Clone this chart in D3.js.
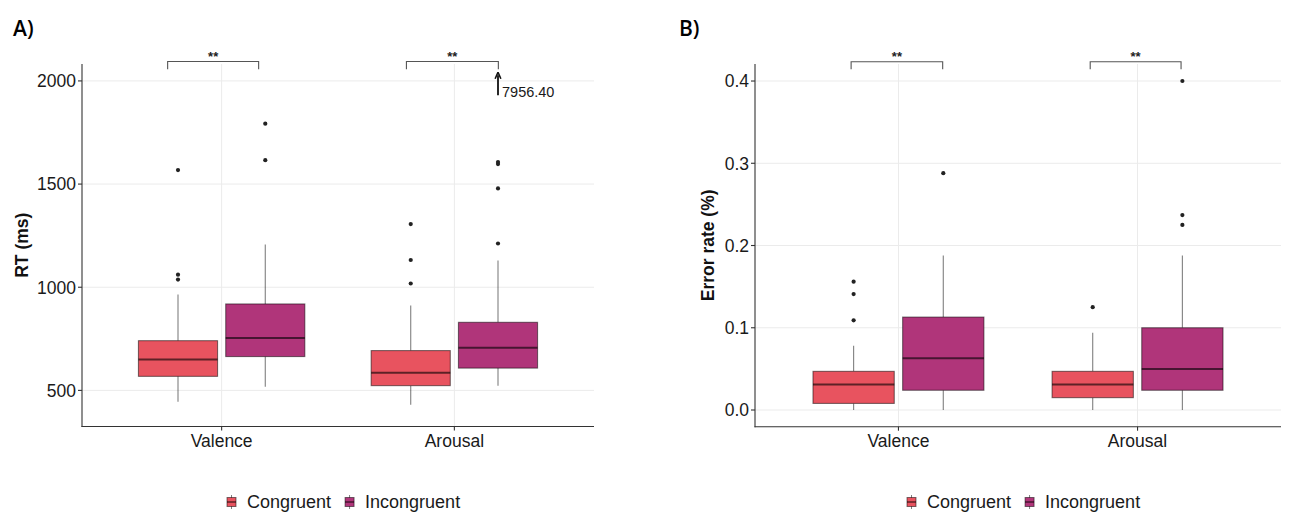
<!DOCTYPE html>
<html>
<head>
<meta charset="utf-8">
<script src="https://cdn.jsdelivr.net/npm/d3@7"></script>
<style>
  body { margin: 0; background: #fff; }
  svg { display: block; font-family: "Liberation Sans", Arial, sans-serif; }
</style>
</head>
<body>
<div id="chart"></div>
<script>
// Categories and groups
const conditions = ["Valence", "Arousal"];
const groups = ["Congruent", "Incongruent"];
const groupColors = ["#E8535F", "#B0357A"];

// Box stats per condition: [lower whisker, Q1, median, Q3, upper whisker]
const rtCongruent = [[445, 568, 650, 741, 965], [431, 523, 586, 693, 911]];
const rtIncongruent = [[518, 664, 754, 919, 1207], [523, 608, 707, 830, 1130]];
const rtCongruentOutliers = [[1037, 1061, 1568], [1018, 1132, 1306]];
const rtIncongruentOutliers = [[1616, 1793], [1212, 1479, 1597, 1607]];
const rtTicks = [500, 1000, 1500, 2000];

const errCongruent = [[0, 0.008, 0.031, 0.047, 0.078], [0, 0.015, 0.031, 0.047, 0.094]];
const errIncongruent = [[0, 0.024, 0.063, 0.113, 0.188], [0, 0.024, 0.050, 0.100, 0.188]];
const errCongruentOutliers = [[0.109, 0.141, 0.156], [0.125]];
const errIncongruentOutliers = [[0.288], [0.225, 0.237, 0.4]];
const errTicks = [0.0, 0.1, 0.2, 0.3, 0.4];

// Significance brackets: [condition, left offset, right offset] in category steps
const sigLabel = "**";
const rtBrackets = [["Valence", -0.232, 0.159], ["Arousal", -0.206, 0.189]];
const errBrackets = [["Valence", -0.198, 0.185], ["Arousal", -0.198, 0.182]];

// Off-scale value shown with an arrow
const rtOffScale = { condition: "Arousal", group: 1, value: 7956.40 };

const W = 1290, H = 512;
const svg = d3.select("#chart").append("svg")
  .attr("width", W).attr("height", H);

function drawPanel(opts) {
  const { left, right, top, bottom, domain, ticks, fmt, title, tag, stats, outliers, brackets, bracketY } = opts;

  const x = d3.scalePoint().domain(conditions).range([left, right]).padding(0.6);
  const y = d3.scaleLinear().domain(domain).range([bottom, top]);
  const step = x.step();
  const dodge = [-0.1875, 0.1875];
  const boxW = 0.34 * step;

  const g = svg.append("g");

  // Grid
  g.selectAll(".hgrid").data(ticks).join("line")
    .attr("x1", left).attr("x2", right)
    .attr("y1", d => y(d)).attr("y2", d => y(d))
    .attr("stroke", "#ebebeb").attr("stroke-width", 1);
  g.selectAll(".vgrid").data(conditions).join("line")
    .attr("x1", d => x(d)).attr("x2", d => x(d))
    .attr("y1", top).attr("y2", bottom)
    .attr("stroke", "#ebebeb").attr("stroke-width", 1);

  // Boxes
  stats.forEach((series, gi) => {
    series.forEach((s, ci) => {
      const cx = x(conditions[ci]) + dodge[gi] * step;
      const bg = g.append("g");
      bg.append("line")
        .attr("x1", cx).attr("x2", cx)
        .attr("y1", y(s[4])).attr("y2", y(s[3]))
        .attr("stroke", "rgba(0,0,0,0.5)").attr("stroke-width", 1.1);
      bg.append("line")
        .attr("x1", cx).attr("x2", cx)
        .attr("y1", y(s[1])).attr("y2", y(s[0]))
        .attr("stroke", "rgba(0,0,0,0.5)").attr("stroke-width", 1.1);
      bg.append("rect")
        .attr("x", cx - boxW / 2).attr("width", boxW)
        .attr("y", y(s[3])).attr("height", y(s[1]) - y(s[3]))
        .attr("fill", groupColors[gi])
        .attr("stroke", "rgba(0,0,0,0.5)").attr("stroke-width", 1.1);
      bg.append("line")
        .attr("x1", cx - boxW / 2).attr("x2", cx + boxW / 2)
        .attr("y1", y(s[2])).attr("y2", y(s[2]))
        .attr("stroke", "rgba(0,0,0,0.6)").attr("stroke-width", 2);
      bg.selectAll("circle").data(outliers[gi][ci]).join("circle")
        .attr("cx", cx).attr("cy", d => y(d)).attr("r", 2.1)
        .attr("fill", "#222");
    });
  });

  // Axes lines
  g.append("line").attr("x1", left).attr("x2", left).attr("y1", top).attr("y2", bottom + 0.5)
    .attr("stroke", "#333").attr("stroke-width", 1.1);
  g.append("line").attr("x1", left - 0.5).attr("x2", right).attr("y1", bottom).attr("y2", bottom)
    .attr("stroke", "#333").attr("stroke-width", 1.1);

  // Y ticks
  g.selectAll(".yt").data(ticks).join("line")
    .attr("x1", left - 4).attr("x2", left)
    .attr("y1", d => y(d)).attr("y2", d => y(d))
    .attr("stroke", "#333").attr("stroke-width", 1.1);
  g.selectAll(".yl").data(ticks).join("text")
    .attr("x", left - 6).attr("y", d => y(d))
    .attr("dy", "0.36em").attr("text-anchor", "end")
    .attr("font-size", 17.5).attr("fill", "#1a1a1a")
    .text(fmt);

  // X ticks
  g.selectAll(".xt").data(conditions).join("line")
    .attr("x1", d => x(d)).attr("x2", d => x(d))
    .attr("y1", bottom).attr("y2", bottom + 4)
    .attr("stroke", "#333").attr("stroke-width", 1.1);
  g.selectAll(".xl").data(conditions).join("text")
    .attr("x", d => x(d)).attr("y", bottom + 20.5)
    .attr("text-anchor", "middle")
    .attr("font-size", 17.5).attr("fill", "#1a1a1a")
    .text(d => d);

  // Y title
  g.append("text")
    .attr("transform", `translate(${opts.titleX},${(top + bottom) / 2}) rotate(-90)`)
    .attr("text-anchor", "middle")
    .attr("font-size", 17.5).attr("font-weight", "bold").attr("fill", "#111")
    .text(title);

  // Panel tag
  svg.append("text")
    .attr("x", opts.tagX).attr("y", 36)
    .attr("font-family", "'Open Sans', sans-serif")
    .attr("font-size", 21).attr("font-weight", 600).attr("fill", "#000")
    .text(tag);

  // Brackets
  brackets.forEach(([cond, l, r]) => {
    const x1 = x(cond) + l * step, x2 = x(cond) + r * step;
    const y1 = y(bracketY[0]), y2 = y(bracketY[1]);
    g.append("path")
      .attr("d", `M${x1},${y2}V${y1}H${x2}V${y2}`)
      .attr("fill", "none").attr("stroke", "#555").attr("stroke-width", 1.1);
    g.append("text")
      .attr("x", (x1 + x2) / 2).attr("y", y1 - 1)
      .attr("text-anchor", "middle")
      .attr("font-size", 13).attr("font-weight", "bold").attr("fill", "#222")
      .text(sigLabel);
  });

  // Legend
  const lg = svg.append("g").attr("transform", `translate(${opts.legendX},502)`);
  let lx = 0;
  groups.forEach((name, gi) => {
    const kx = lx;
    lg.append("line").attr("x1", kx + 4.5).attr("x2", kx + 4.5).attr("y1", -7).attr("y2", 7)
      .attr("stroke", "rgba(0,0,0,0.5)");
    lg.append("rect").attr("x", kx).attr("y", -4.5).attr("width", 9).attr("height", 9)
      .attr("fill", groupColors[gi]).attr("stroke", "rgba(0,0,0,0.5)");
    lg.append("line").attr("x1", kx).attr("x2", kx + 9).attr("y1", 0).attr("y2", 0)
      .attr("stroke", "rgba(0,0,0,0.6)").attr("stroke-width", 1.5);
    const t = lg.append("text").attr("x", kx + 20).attr("y", 0).attr("dy", "0.36em")
      .attr("font-size", 18).attr("fill", "#1a1a1a").text(name);
    lx = kx + 20 + t.node().getComputedTextLength() + 14;
  });

  return { x, y, step, dodge };
}

const pa = drawPanel({
  left: 82, right: 594, top: 64, bottom: 426.5,
  domain: [325, 2082], ticks: rtTicks, fmt: d => d,
  title: "RT (ms)", titleX: 28, tag: "A)", tagX: 13,
  stats: [rtCongruent, rtIncongruent],
  outliers: [rtCongruentOutliers, rtIncongruentOutliers],
  brackets: rtBrackets, bracketY: [2094, 2057], legendX: 227
});

const pb = drawPanel({
  left: 755, right: 1281, top: 64, bottom: 426.7,
  domain: [-0.0203, 0.4207], ticks: errTicks, fmt: d3.format(".1f"),
  title: "Error rate (%)", titleX: 714, tag: "B)", tagX: 679,
  stats: [errCongruent, errIncongruent],
  outliers: [errCongruentOutliers, errIncongruentOutliers],
  brackets: errBrackets, bracketY: [0.4235, 0.4143], legendX: 907
});

// Off-scale arrow annotation in panel A
const ax = pa.x(rtOffScale.condition) + pa.dodge[rtOffScale.group] * pa.step;
svg.append("defs").append("marker")
  .attr("id", "ah").attr("viewBox", "0 0 10 10").attr("refX", 5).attr("refY", 5)
  .attr("markerWidth", 4).attr("markerHeight", 4).attr("orient", "auto")
  .append("path").attr("d", "M0,1L9,5L0,9").attr("fill", "none")
  .attr("stroke", "#111").attr("stroke-width", 2.2);
svg.append("line")
  .attr("x1", ax).attr("x2", ax).attr("y1", pa.y(1930)).attr("y2", pa.y(2028))
  .attr("stroke", "#111").attr("stroke-width", 1.8).attr("marker-end", "url(#ah)");
svg.append("text")
  .attr("x", ax + 4).attr("y", pa.y(1930) + 2)
  .attr("font-size", 14.5).attr("fill", "#1a1a1a")
  .text(d3.format(".2f")(rtOffScale.value));
</script>
</body>
</html>
